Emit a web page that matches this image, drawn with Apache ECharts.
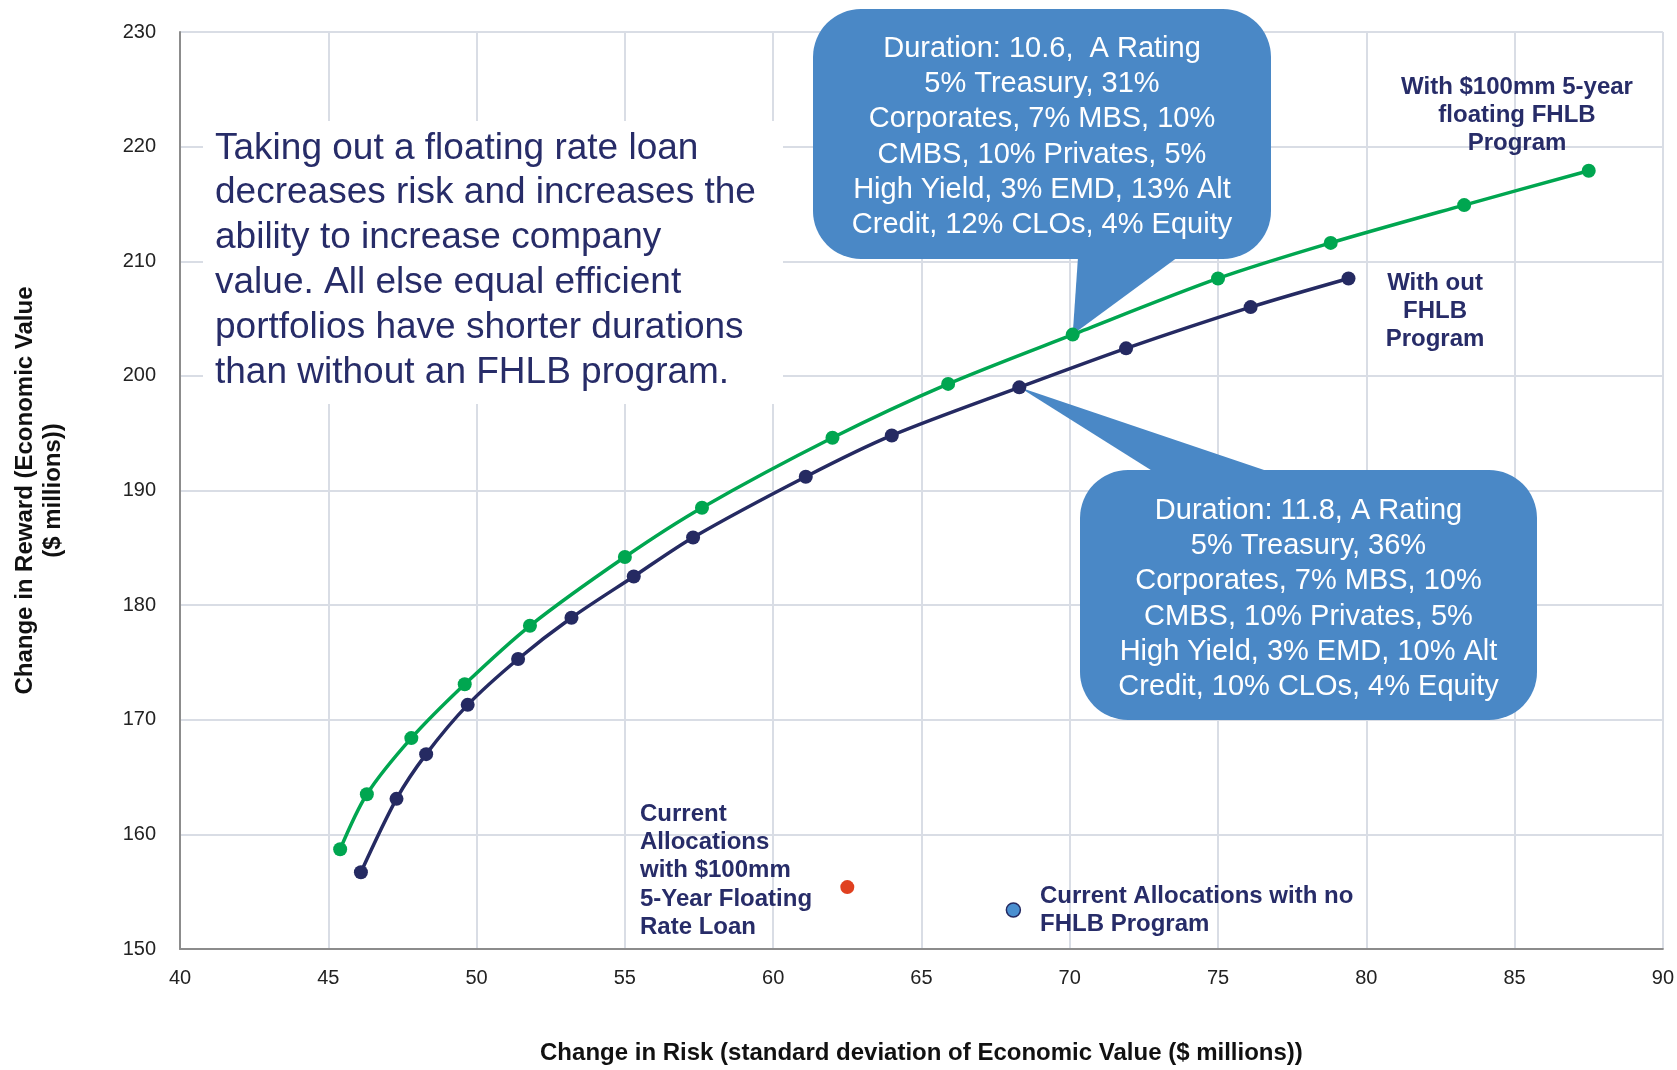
<!DOCTYPE html>
<html>
<head>
<meta charset="utf-8">
<script src="https://cdn.jsdelivr.net/npm/echarts@6/dist/echarts.min.js"></script>
<style>
  html, body { margin: 0; padding: 0; background: #fff; }
  #chart { width: 1677px; height: 1070px; }
</style>
</head>
<body>
<div id="chart"></div>
<script>
// efficient frontier with the FHLB program (green)
var fhlbRisk   = [45.4, 46.3, 47.8, 49.6, 51.8, 55.0, 57.6, 62.0, 65.9, 70.1, 75.0, 78.8, 83.3, 87.5];
var fhlbReward = [158.7, 163.5, 168.4, 173.1, 178.2, 184.2, 188.5, 194.6, 199.3, 203.6, 208.5, 211.6, 214.9, 217.9];
// efficient frontier without the program (navy)
var noFhlbRisk   = [46.1, 47.3, 48.3, 49.7, 51.4, 53.2, 55.3, 57.3, 61.1, 64.0, 68.3, 71.9, 76.1, 79.4];
var noFhlbReward = [156.7, 163.1, 167.0, 171.3, 175.3, 178.9, 182.5, 185.9, 191.2, 194.8, 199.0, 202.4, 206.0, 208.5];
// current allocations
var currentLoan = [62.5, 155.4];
var currentNoFhlb = [68.1, 153.4];

var xTicks = { min: 40, max: 90, step: 5 };
var yTicks = { min: 150, max: 230, step: 10 };

var navyText = '#272c68';
var green = '#00a650';
var navy = '#252a62';
var calloutBlue = '#4a88c6';

function pairs(xs, ys) {
    var out = [];
    for (var i = 0; i < xs.length; i++) out.push([xs[i], ys[i]]);
    return out;
}

var myChart = echarts.init(document.getElementById('chart'));

var option = {
    animation: false,
    backgroundColor: '#fff',
    textStyle: { fontFamily: 'Liberation Sans, Arial, sans-serif' },
    grid: { left: 180, right: 14, top: 32, bottom: 113 },
    xAxis: {
        type: 'value',
        min: xTicks.min, max: xTicks.max, interval: xTicks.step,
        name: 'Change in Risk (standard deviation of Economic Value ($ millions))',
        nameLocation: 'middle',
        nameGap: 92,
        nameTextStyle: { fontSize: 24, fontWeight: 'bold', color: '#111' },
        axisLine: { lineStyle: { color: '#8c8c8c', width: 2 } },
        axisTick: { show: false },
        axisLabel: { fontSize: 20, color: '#222', margin: 19 },
        splitLine: { lineStyle: { color: '#d9dde5', width: 2 } }
    },
    yAxis: {
        type: 'value',
        min: yTicks.min, max: yTicks.max, interval: yTicks.step,
        name: 'Change in Reward (Economic Value\n($ millions))',
        nameLocation: 'middle',
        nameGap: 113,
        nameTextStyle: { fontSize: 24, fontWeight: 'bold', color: '#111', lineHeight: 28, align: 'center' },
        axisLine: { show: true, lineStyle: { color: '#8c8c8c', width: 2 } },
        axisTick: { show: false },
        axisLabel: { fontSize: 20, color: '#222', margin: 24 },
        splitLine: { lineStyle: { color: '#d9dde5', width: 2 } }
    },
    series: [
        {
            name: 'With FHLB',
            type: 'line',
            data: pairs(fhlbRisk, fhlbReward),
            smooth: 0.3,
            symbol: 'circle',
            symbolSize: 14,
            lineStyle: { color: green, width: 3.5 },
            itemStyle: { color: green },
            z: 3
        },
        {
            name: 'Without FHLB',
            type: 'line',
            data: pairs(noFhlbRisk, noFhlbReward),
            smooth: 0.3,
            symbol: 'circle',
            symbolSize: 14,
            lineStyle: { color: navy, width: 3.5 },
            itemStyle: { color: navy },
            z: 3
        },
        {
            name: 'Current with loan',
            type: 'scatter',
            data: [currentLoan],
            symbolSize: 14,
            itemStyle: { color: '#e0401f', opacity: 1 },
            z: 3
        },
        {
            name: 'Current no FHLB',
            type: 'scatter',
            data: [currentNoFhlb],
            symbolSize: 14,
            itemStyle: { color: '#4a8fd0', borderColor: navy, borderWidth: 1.5, opacity: 1 },
            z: 3
        }
    ]
};

myChart.setOption(option);

// callouts pointing at frontier points
var tip1 = myChart.convertToPixel({ gridIndex: 0 }, [fhlbRisk[9], fhlbReward[9]]);
var tip2 = myChart.convertToPixel({ gridIndex: 0 }, [noFhlbRisk[10], noFhlbReward[10]]);

var box1 = { x: 813, y: 9, w: 458, h: 250 };
var box2 = { x: 1080, y: 470, w: 457, h: 250 };

var calloutFont = { fontSize: 29, fill: '#fff', lineHeight: 35.3, align: 'center', fontFamily: 'Liberation Sans, Arial, sans-serif' };
var labelFont = { fontSize: 24, fontWeight: 'bold', fill: navyText, lineHeight: 28.3, fontFamily: 'Liberation Sans, Arial, sans-serif' };

myChart.setOption({
    graphic: [
        // white box with the note
        {
            type: 'rect', z: 1,
            shape: { x: 203, y: 121, width: 580, height: 283 },
            style: { fill: '#fff' }
        },
        {
            type: 'text', z: 2, x: 215, y: 126,
            style: {
                text: 'Taking out a floating rate loan\ndecreases risk and increases the\nability to increase company\nvalue. All else equal efficient\nportfolios have shorter durations\nthan without an FHLB program.',
                fontSize: 37, lineHeight: 44.8, fill: navyText,
                fontFamily: 'Liberation Sans, Arial, sans-serif'
            }
        },
        // callout 1
        {
            type: 'polygon', z: 1,
            shape: { points: [[1078, box1.y + box1.h - 2], [1178, box1.y + box1.h - 2], tip1] },
            style: { fill: calloutBlue }
        },
        {
            type: 'rect', z: 1,
            shape: { x: box1.x, y: box1.y, width: box1.w, height: box1.h, r: 48 },
            style: { fill: calloutBlue }
        },
        {
            type: 'text', z: 2, x: box1.x + box1.w / 2, y: 31,
            style: Object.assign({
                text: 'Duration: 10.6,  A Rating\n5% Treasury, 31%\nCorporates, 7% MBS, 10%\nCMBS, 10% Privates, 5%\nHigh Yield, 3% EMD, 13% Alt\nCredit, 12% CLOs, 4% Equity'
            }, calloutFont)
        },
        // callout 2
        {
            type: 'polygon', z: 1,
            shape: { points: [[1154, box2.y + 2], [1270, box2.y + 2], tip2] },
            style: { fill: calloutBlue }
        },
        {
            type: 'rect', z: 1,
            shape: { x: box2.x, y: box2.y, width: box2.w, height: box2.h, r: 48 },
            style: { fill: calloutBlue }
        },
        {
            type: 'text', z: 2, x: box2.x + box2.w / 2, y: 493,
            style: Object.assign({
                text: 'Duration: 11.8, A Rating\n5% Treasury, 36%\nCorporates, 7% MBS, 10%\nCMBS, 10% Privates, 5%\nHigh Yield, 3% EMD, 10% Alt\nCredit, 10% CLOs, 4% Equity'
            }, calloutFont)
        },
        // series labels
        {
            type: 'text', z: 2, x: 1517, y: 73,
            style: Object.assign({ text: 'With $100mm 5-year\nfloating FHLB\nProgram', align: 'center' }, labelFont)
        },
        {
            type: 'text', z: 2, x: 1435, y: 269,
            style: Object.assign({ text: 'With out\nFHLB\nProgram', align: 'center' }, labelFont)
        },
        {
            type: 'text', z: 2, x: 640, y: 800,
            style: Object.assign({ text: 'Current\nAllocations\nwith $100mm\n5-Year Floating\nRate Loan', align: 'left' }, labelFont)
        },
        {
            type: 'text', z: 2, x: 1040, y: 882,
            style: Object.assign({ text: 'Current Allocations with no\nFHLB Program', align: 'left' }, labelFont)
        }
    ]
});
</script>
</body>
</html>
